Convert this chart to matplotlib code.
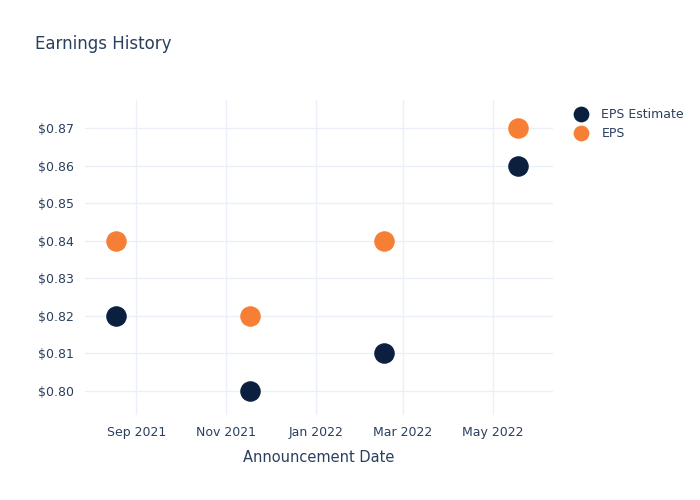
import numpy as np
import matplotlib
matplotlib.use("Agg")
import matplotlib.pyplot as plt

# Data
dates = np.array(["2021-08-18", "2021-11-17", "2022-02-16", "2022-05-18"], dtype="datetime64[D]")
eps_estimate = [0.82, 0.80, 0.81, 0.86]
eps_actual = [0.84, 0.82, 0.84, 0.87]
y_ticks = [0.80, 0.81, 0.82, 0.83, 0.84, 0.85, 0.86, 0.87]
x_ticks = np.array(["2021-09-01", "2021-11-01", "2022-01-01", "2022-03-01", "2022-05-01"], dtype="datetime64[D]")
x_tick_labels = ["Sep 2021", "Nov 2021", "Jan 2022", "Mar 2022", "May 2022"]

text_color = "#2a3f5f"
grid_color = "#ebf0f8"

fig = plt.figure(figsize=(7, 5), dpi=100)
ax = fig.add_axes([0.121, 0.17, 0.669, 0.63])

ax.scatter(dates, eps_estimate, s=190, color="#0b1f3f", label="EPS Estimate", zorder=3)
ax.scatter(dates, eps_actual, s=190, color="#f77f35", label="EPS", zorder=3)

ax.set_xlim(np.datetime64("2021-07-28"), np.datetime64("2022-06-11"))
ax.set_ylim(0.7936, 0.8775)
ax.set_xticks(x_ticks)
ax.set_xticklabels(x_tick_labels)
ax.set_yticks(y_ticks)
ax.set_yticklabels([f"${v:.2f}" for v in y_ticks])

ax.grid(True, color=grid_color, linewidth=1)
ax.set_axisbelow(True)
for s in ax.spines.values():
    s.set_visible(False)
ax.tick_params(length=0, colors=text_color, labelsize=9, pad=8)

ax.set_xlabel("Announcement Date", color=text_color, fontsize=10.5, labelpad=8)
fig.text(0.05, 0.912, "Earnings History", color=text_color, fontsize=12, va="center")

leg = ax.legend(loc="upper left", bbox_to_anchor=(1.018, 1.0), frameon=False,
                fontsize=9, labelcolor=text_color, handletextpad=0.6,
                borderaxespad=0.2, labelspacing=0.5, markerscale=0.75)

fig.savefig("out.png", dpi=100)
